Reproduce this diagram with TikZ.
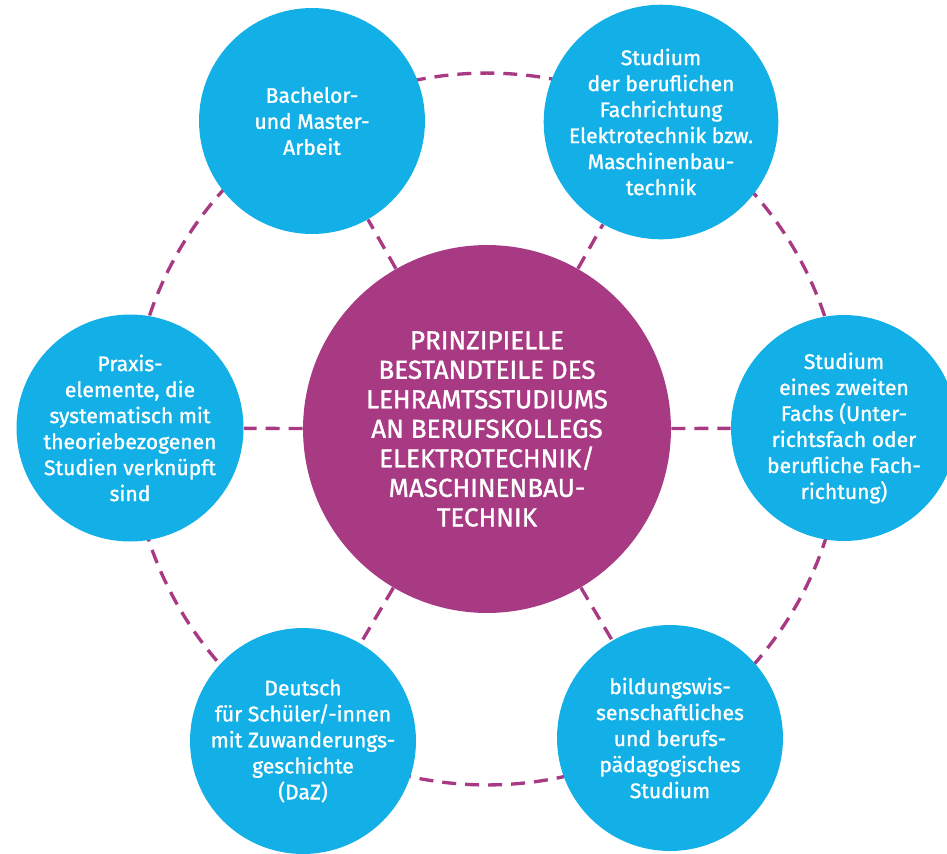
\documentclass[tikz,border=0pt]{standalone}
\usepackage{fontspec}
\setmainfont{Fira Sans}[FakeBold=1.2,UprightFeatures={FakeBold=1.2}]
\definecolor{kreisblau}{HTML}{12B0E6}
\definecolor{kreislila}{HTML}{A83A84}
\tikzset{
  aussenkreis/.style={circle, fill=kreisblau, minimum size=4.52cm, inner sep=0pt,
    text=white, align=center, font=\fontsize{12}{14.8}\selectfont},
  kernkreis/.style={circle, fill=kreislila, minimum size=7.36cm, inner sep=0pt,
    text=white, align=center, font=\fontsize{14.8}{16.8}\selectfont},
  strichlinie/.style={draw=kreislila, line width=1.9pt, dash pattern=on 0.28cm off 0.18cm}
}
\begin{document}
\begin{tikzpicture}[x=0.02cm,y=-0.02cm]
        \useasboundingbox (0,0) rectangle (947,853);
        \draw[strichlinie] (487,429) circle[radius=7.12cm];
        \node[kernkreis] (kern) at (487,429) {PRINZIPIELLE\\BESTANDTEILE DES\\LEHRAMTSSTUDIUMS\\AN BERUFSKOLLEGS\\ELEKTROTECHNIK/\\MASCHINENBAU-\\TECHNIK};
        \node[aussenkreis] (bachelor) at (312,121) {Bachelor-\\und Master-\\Arbeit};
        \node[aussenkreis] (fachrichtung) at (661,122) {Studium\\der beruflichen\\Fachrichtung\\Elektrotechnik bzw.\\Maschinenbau-\\technik};
        \node[aussenkreis] (zweitfach) at (844,428) {Studium\\eines zweiten\\Fachs (Unter-\\richtsfach oder\\berufliche Fach-\\richtung)};
        \node[aussenkreis] (bildung) at (670,738) {bildungswis-\\senschaftliches\\und berufs-\\pädagogisches\\Studium};
        \node[aussenkreis] (daz) at (303,741) {Deutsch\\für Schüler/-innen\\mit Zuwanderungs-\\geschichte\\(DaZ)};
        \node[aussenkreis] (praxis) at (130,428) {Praxis-\\elemente, die\\systematisch mit\\theoriebezogenen\\Studien verknüpft\\sind};
        \foreach \n in {bachelor,fachrichtung,zweitfach,bildung,daz,praxis}
        {
                \draw[strichlinie] (kern) -- (\n);
        }
\end{tikzpicture}
\end{document}
